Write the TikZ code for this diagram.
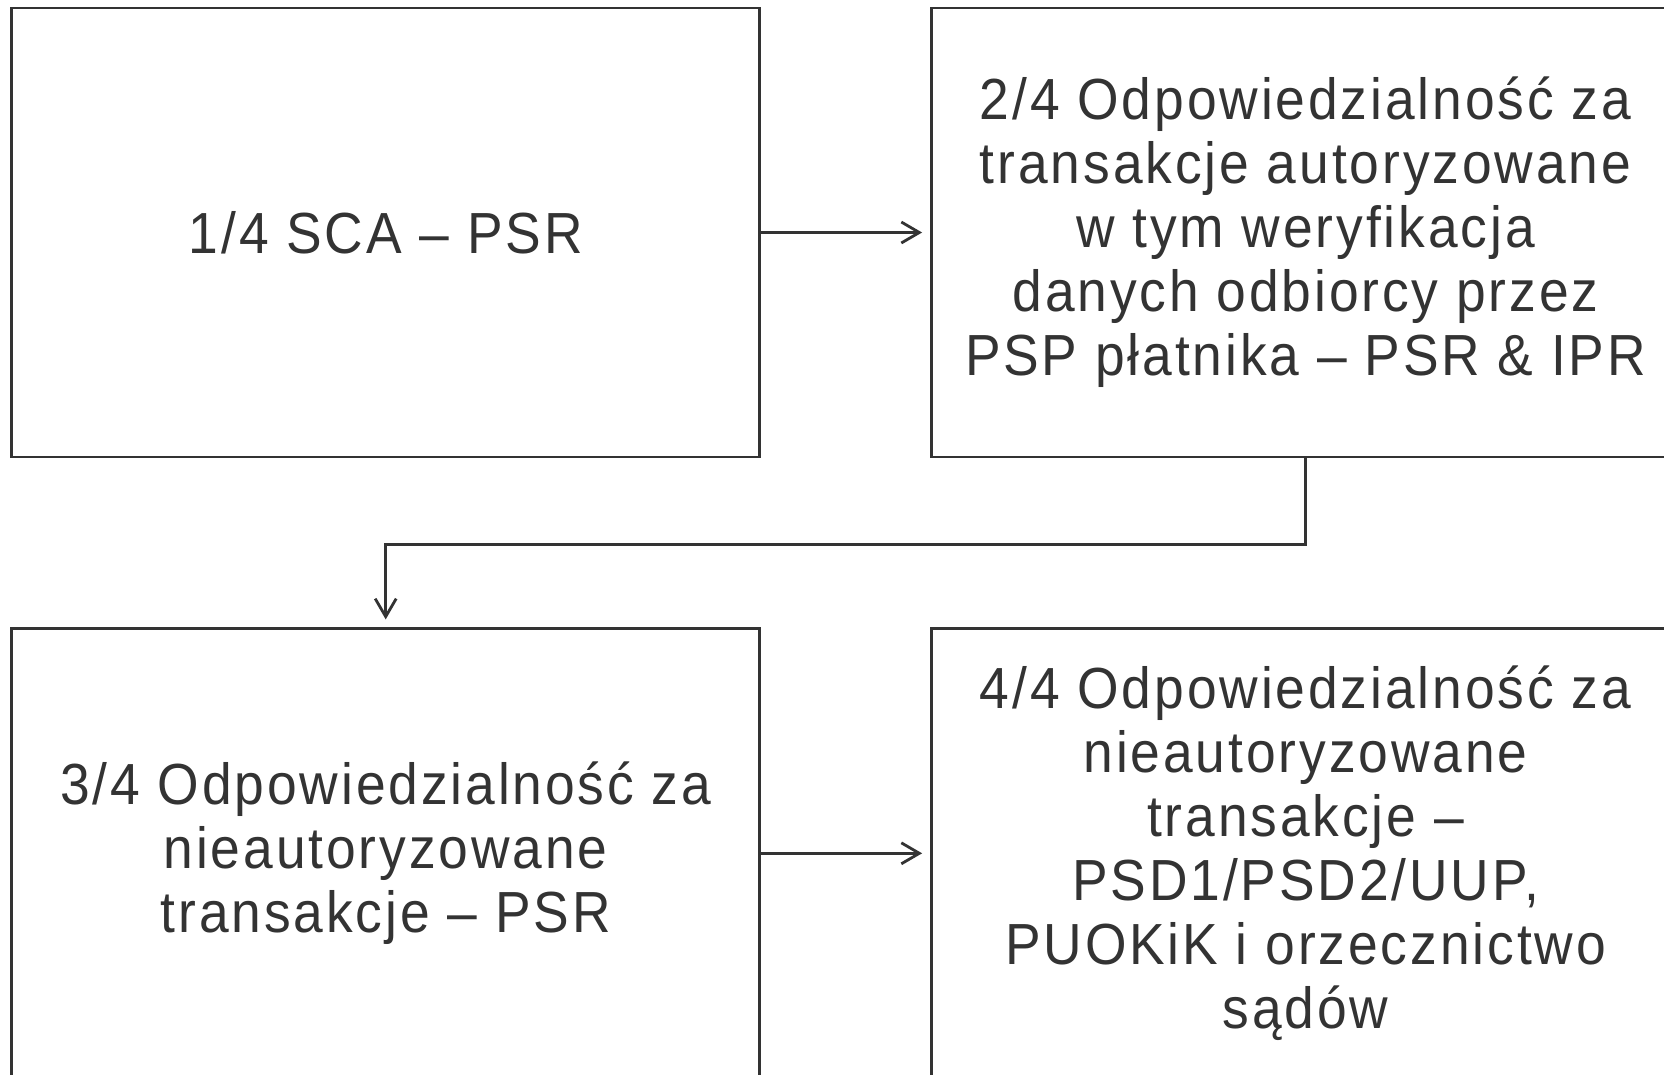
\documentclass[tikz,border=0pt]{standalone}
\usepackage{fontspec}
\setmainfont{Liberation Sans}[FakeStretch=0.92,LetterSpace=5]
\usetikzlibrary{arrows.meta,positioning}
\definecolor{inkgrey}{HTML}{333333}
\tikzset{every node/.style={font=\fontsize{58}{64}\selectfont,text=inkgrey},
  stepbox/.style={draw=inkgrey,line width=2.8pt,fill=white,align=center,
    minimum width=748pt,minimum height=449pt,inner sep=0pt},
  lnk/.style={draw=inkgrey,line width=2.8pt},
  arr/.style={lnk,-{Straight Barb[length=18pt,width=21pt]},shorten >=8pt}}

\begin{document}
\begin{tikzpicture}[x=1pt,y=-1pt]
  \useasboundingbox (0,0) rectangle (1664,1074);

  % upper row
  \node[stepbox] (sca) at (385.7,232.5) {1/4 SCA -- PSR};
  \node[stepbox,right=169pt of sca] (autor)
    {2/4 Odpowiedzialność za\\transakcje autoryzowane\\w tym weryfikacja\\danych odbiorcy przez\\PSP płatnika -- PSR \& IPR};

  % lower row
  \node[stepbox,below=169pt of sca] (nieautpsr)
    {3/4 Odpowiedzialność za\\nieautoryzowane\\transakcje -- PSR};
  \node[stepbox,right=169pt of nieautpsr] (nieautpsd)
    {4/4 Odpowiedzialność za\\nieautoryzowane\\transakcje --\\PSD1/PSD2/UUP,\\PUOKiK i orzecznictwo\\sądów};

  \draw[arr] (sca) -- (autor);
  \draw[arr] (autor.south) -- ++(0,85.7) -| (nieautpsr.north);
  \draw[arr] (nieautpsr) -- (nieautpsd);
\end{tikzpicture}
\end{document}
